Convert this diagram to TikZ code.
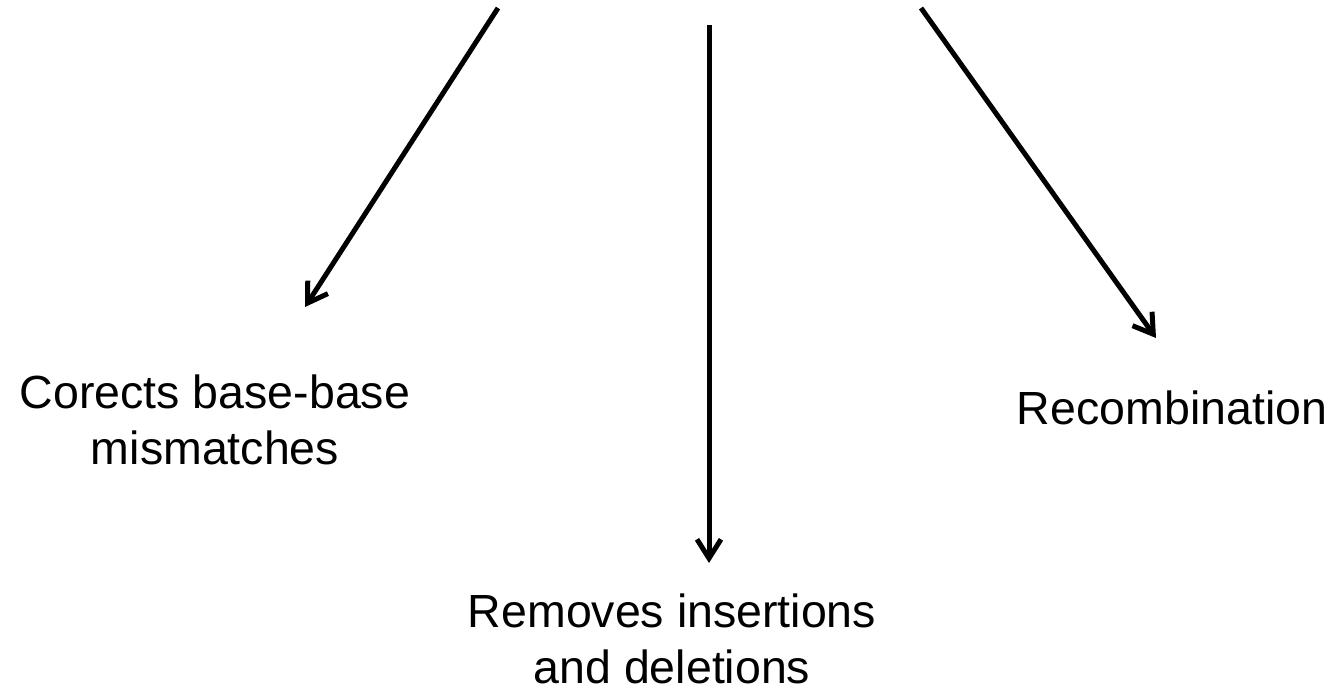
\documentclass[tikz,border=0pt]{standalone}
\usepackage{fontspec}
\setmainfont{Liberation Sans}
\usetikzlibrary{arrows.meta}
\tikzset{
  conn/.style={line width=5pt, -{Straight Barb[length=19pt, width=24pt, line width=5pt]}},
  lbl/.style={inner sep=0pt, align=center, font=\fontsize{46.5}{56}\selectfont}
}
\begin{document}
\begin{tikzpicture}[x=1pt, y=-1pt]
\useasboundingbox (0,0) rectangle (1334,696);
\node[lbl] (mis) at (215,420) {Corects base-base\\mismatches};
\node[lbl] (ins) at (672,639) {Removes insertions\\and deletions};
\node[lbl] (rec) at (1172,408) {Recombination};
\coordinate (s1) at (498,8);
\coordinate (t1) at (305,307);
\coordinate (s2) at (709,25);
\coordinate (t2) at (709,563);
\coordinate (s3) at (921,8);
\coordinate (t3) at (1156,338);
\draw[conn] (s1) -- (t1);
\draw[conn] (s2) -- (t2);
\draw[conn] (s3) -- (t3);
\end{tikzpicture}
\end{document}
